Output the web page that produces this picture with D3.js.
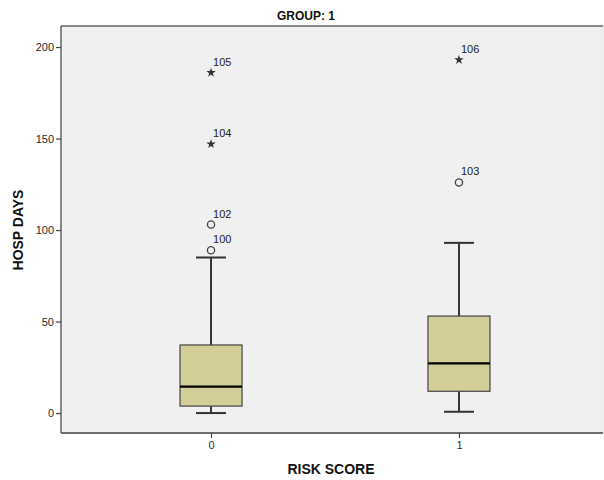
<!DOCTYPE html>
<html><head><meta charset="utf-8">
<script src="https://cdn.jsdelivr.net/npm/d3@7"></script>
<style>body{margin:0;background:#fff}</style>
</head><body>
<svg id="c" width="604" height="480"></svg>
<script>
const categories = ["0", "1"];
const yTicks = [0, 50, 100, 150, 200];
// box stats: [lowerWhisker, q1, median, q3, upperWhisker]
const boxStats = [
  [0, 3.8, 14.4, 37.2, 85],
  [0.7, 11.9, 27.2, 53, 93]
];
// outliers: group, value, case label, type
const outlierGroups = ["0", "0", "0", "0", "1", "1"];
const outlierValues = [89, 103, 147, 186, 126, 193];
const outlierLabels = ["100", "102", "104", "105", "103", "106"];
const outlierTypes = ["circle", "circle", "star", "star", "circle", "star"];

const svg = d3.select("#c");
const L = 61, R = 603, T = 26, B = 433;
const y = d3.scaleLinear().domain([-10.9, 211.5]).range([B, T]);
const x = d3.scalePoint().domain(categories).range([L + 3, R + 3]).padding(0.593);

svg.append("rect").attr("x", L).attr("y", T).attr("width", R - L).attr("height", B - T)
  .attr("fill", "#f0f0f0").attr("stroke", "#e4e4e4");
svg.append("line").attr("x1", L).attr("x2", R).attr("y1", T).attr("y2", T).attr("stroke", "#666").attr("stroke-width", 1.5);
svg.append("line").attr("x1", L).attr("x2", R).attr("y1", B).attr("y2", B).attr("stroke", "#666").attr("stroke-width", 1.5);

const yAxis = svg.append("g").attr("transform", `translate(${L},0)`)
  .call(d3.axisLeft(y).tickValues(yTicks).tickSize(5).tickPadding(2));
const xAxis = svg.append("g").attr("transform", `translate(0,${B})`)
  .call(d3.axisBottom(x).tickSize(5).tickPadding(3));
[yAxis, xAxis].forEach(a => {
  a.select(".domain").attr("stroke", "#666").attr("stroke-width", 1.5);
  a.selectAll(".tick line").attr("stroke", "#444").attr("stroke-width", 1.2);
  a.selectAll(".tick text").attr("fill", "#2a2a2a").style("font-family", "Arial, 'Liberation Sans', sans-serif").style("font-size", "11px");
});
yAxis.select(".domain").attr("d", `M0,${T}V${B}`);
xAxis.select(".domain").attr("d", `M${L},0H${R}`);

const bw = 62, cw = 30;
const g = svg.append("g");
categories.forEach((c, i) => {
  const [lo, q1, md, q3, hi] = boxStats[i];
  const cx = x(c);
  g.append("line").attr("x1", cx).attr("x2", cx).attr("y1", y(hi)).attr("y2", y(q3)).attr("stroke", "#333").attr("stroke-width", 2);
  g.append("line").attr("x1", cx).attr("x2", cx).attr("y1", y(q1)).attr("y2", y(lo)).attr("stroke", "#333").attr("stroke-width", 2);
  g.append("line").attr("x1", cx - cw / 2).attr("x2", cx + cw / 2).attr("y1", y(hi)).attr("y2", y(hi)).attr("stroke", "#333").attr("stroke-width", 2);
  g.append("line").attr("x1", cx - cw / 2).attr("x2", cx + cw / 2).attr("y1", y(lo)).attr("y2", y(lo)).attr("stroke", "#333").attr("stroke-width", 2);
  g.append("rect").attr("x", cx - bw / 2).attr("y", y(q3)).attr("width", bw).attr("height", y(q1) - y(q3))
    .attr("fill", "#d3ce97").attr("stroke", "#444").attr("stroke-width", 1.2);
  g.append("line").attr("x1", cx - bw / 2).attr("x2", cx + bw / 2).attr("y1", y(md)).attr("y2", y(md)).attr("stroke", "#000").attr("stroke-width", 2.2);
});

const star = d3.symbol().type(d3.symbolStar).size(28);
outlierValues.forEach((v, i) => {
  const cx = x(outlierGroups[i]), cy = y(v);
  if (outlierTypes[i] === "circle") {
    svg.append("circle").attr("cx", cx).attr("cy", cy).attr("r", 3.6).attr("fill", "none").attr("stroke", "#444").attr("stroke-width", 1.3);
  } else {
    svg.append("path").attr("d", star).attr("transform", `translate(${cx},${cy})`).attr("fill", "#333");
  }
  svg.append("text").attr("x", cx + 2).attr("y", cy - 7).text(outlierLabels[i])
    .attr("fill", "#222").style("font-family", "Arial, 'Liberation Sans', sans-serif").style("font-size", "11px");
});

svg.append("text").attr("x", 306).attr("y", 20).attr("text-anchor", "middle").text("GROUP: 1")
  .attr("fill", "#111").style("font-family", "'Liberation Sans Narrow', 'Arial Narrow', 'Liberation Sans', sans-serif")
  .style("font-weight", "bold").style("font-size", "12px");
svg.append("text").attr("transform", "translate(23,230) rotate(-90)").attr("text-anchor", "middle").text("HOSP DAYS")
  .attr("fill", "#111").style("font-family", "Arial, 'Liberation Sans', sans-serif").style("font-weight", "bold").style("font-size", "14px");
svg.append("text").attr("x", 331).attr("y", 474).attr("text-anchor", "middle").text("RISK SCORE")
  .attr("fill", "#111").style("font-family", "Arial, 'Liberation Sans', sans-serif").style("font-weight", "bold").style("font-size", "14px");
</script>
</body></html>
